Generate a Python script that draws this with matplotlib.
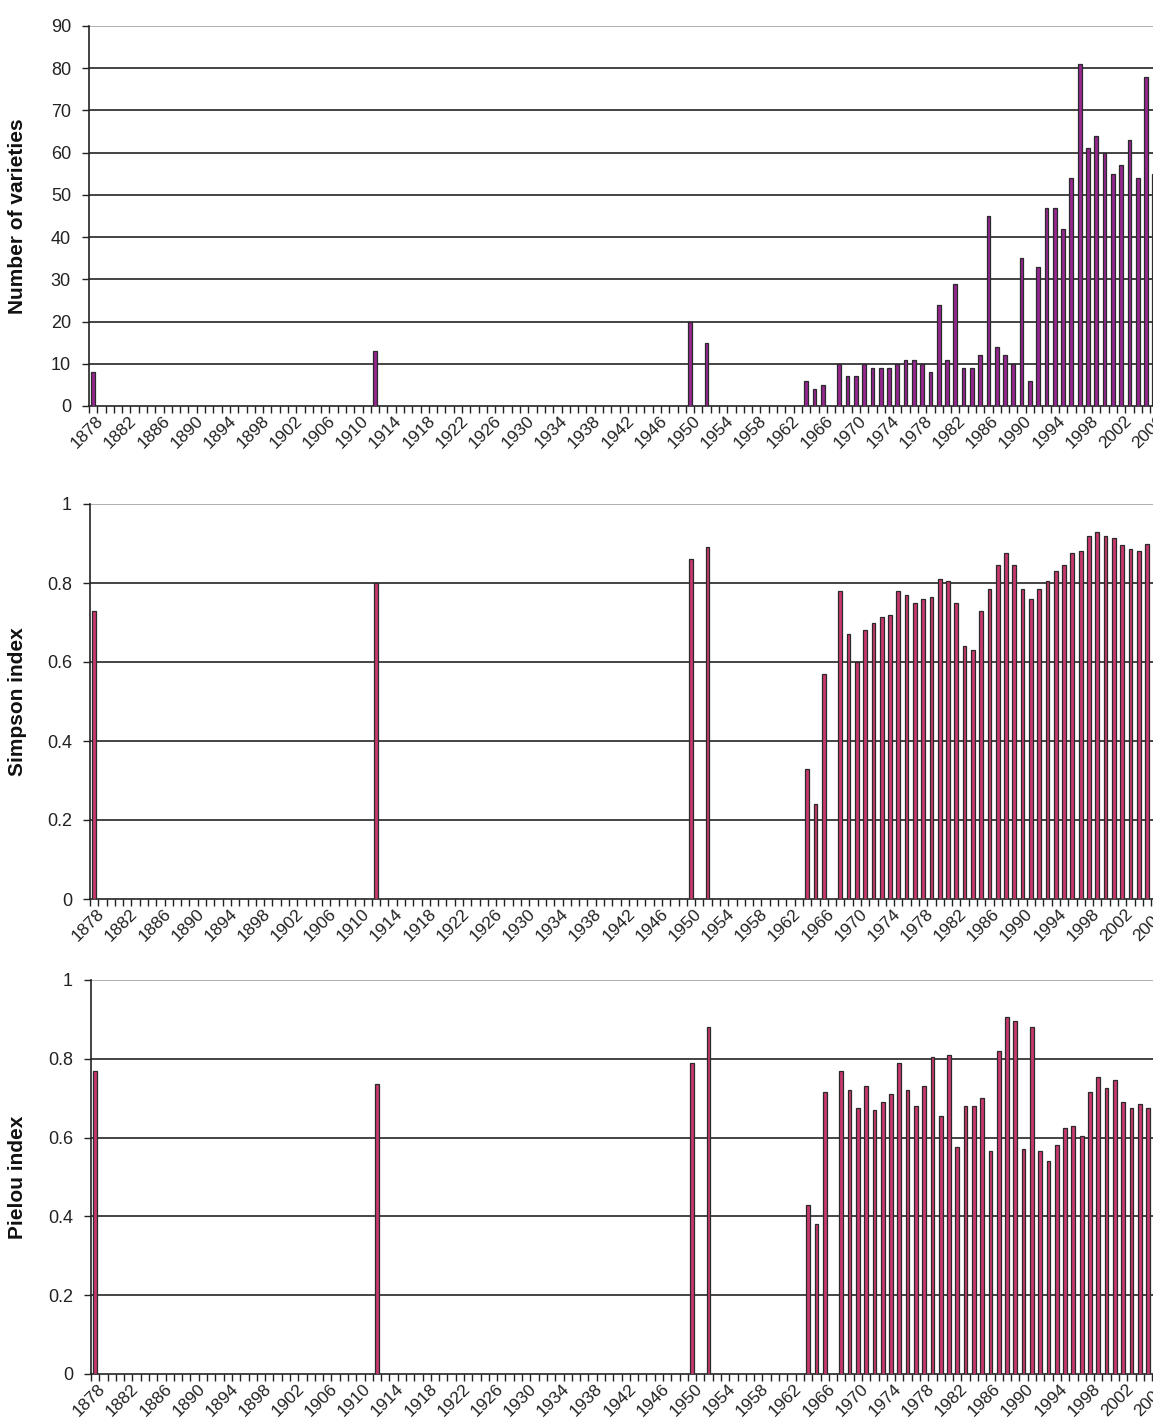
import numpy as np
import matplotlib
matplotlib.use("Agg")
import matplotlib.pyplot as plt

plt.rcParams["font.family"] = ["Liberation Sans", "DejaVu Sans"]

# all categories on the x axis
years_all = list(range(1878, 2007))
tick_years = list(range(1878, 2007, 4))

# years that have a bar
bar_years = [1878, 1912, 1950, 1952, 1964, 1965, 1966] + list(range(1968, 2007))

varieties = [8, 13, 20, 15, 6, 4, 5,
             10, 7, 7, 10, 9, 9, 9, 10, 11, 11, 10, 8, 24, 11, 29, 9, 9, 12, 45, 14,
             12, 10, 35, 6, 33, 47, 47, 42, 54, 81, 61, 64, 60, 55, 57, 63, 54, 78, 55]

simpson = [0.73, 0.80, 0.86, 0.89, 0.33, 0.24, 0.57,
           0.78, 0.67, 0.60, 0.68, 0.70, 0.715, 0.72, 0.78, 0.77, 0.75, 0.76, 0.765,
           0.81, 0.805, 0.75, 0.64, 0.63, 0.73, 0.785, 0.845, 0.875, 0.845, 0.785,
           0.76, 0.785, 0.805, 0.83, 0.845, 0.875, 0.88, 0.92, 0.93, 0.92, 0.915,
           0.895, 0.885, 0.88, 0.90, np.nan]

pielou = [0.77, 0.735, 0.79, 0.88, 0.43, 0.38, 0.715,
          0.77, 0.72, 0.675, 0.73, 0.67, 0.69, 0.71, 0.79, 0.72, 0.68, 0.73, 0.805,
          0.655, 0.81, 0.575, 0.68, 0.68, 0.70, 0.565, 0.82, 0.905, 0.895, 0.57,
          0.88, 0.565, 0.54, 0.58, 0.625, 0.63, 0.605, 0.715, 0.755, 0.725, 0.745,
          0.69, 0.675, 0.685, 0.675, np.nan]

W, H = 1153, 1422
step = 8.29  # px per year
fig = plt.figure(figsize=(W / 100, H / 100), dpi=100)


def panel(left, top, bottom, values, ymax, ystep, color, ylabel, yfmt):
    width = len(years_all) * step
    ax = fig.add_axes([left / W, 1 - bottom / H, width / W, (bottom - top) / H])
    x = [years_all.index(y) for y in bar_years]
    ax.bar(x, values, width=0.45, color=color, edgecolor="#2a2a2a", linewidth=0.9, zorder=3)

    ax.set_xlim(-0.5, len(years_all) - 0.5)
    ax.set_ylim(0, ymax)

    yt = np.arange(0, ymax + ystep / 2, ystep)
    ax.set_yticks(yt)
    ax.set_yticklabels([yfmt(v) for v in yt], fontsize=13, color="#222222")
    for v in yt[1:]:
        c = "#9a9a9a" if v == yt[-1] else "#111111"
        ax.axhline(v, color=c, linewidth=1.1, zorder=1)

    # tick marks at category boundaries, labels every 4 years
    ax.set_xticks(np.arange(-0.5, len(years_all)), minor=True)
    ax.set_xticks([years_all.index(y) + 0.3 for y in tick_years])
    ax.set_xticklabels([str(y) for y in tick_years], rotation=45, ha="right",
                       va="top", rotation_mode="anchor", fontsize=12.5, color="#222222")
    ax.tick_params(axis="x", which="major", length=0, pad=5)
    ax.tick_params(axis="x", which="minor", length=5, width=1.0, color="#222222")
    ax.tick_params(axis="y", length=5, width=1.0, color="#222222", pad=8)

    for s in ["top", "right"]:
        ax.spines[s].set_visible(False)
    ax.spines["left"].set_linewidth(1.2)
    ax.spines["bottom"].set_linewidth(1.2)
    ax.spines["left"].set_color("#222222")
    ax.spines["bottom"].set_color("#222222")

    ax.set_ylabel(ylabel, fontsize=15, fontweight="bold", color="#111111")
    ax.yaxis.set_label_coords(-(left - 27) / width, 0.5)
    return ax


panel(89, 26, 406, varieties, 90, 10, "#962690", "Number of varieties", lambda v: "%d" % v)
panel(90, 504, 899, simpson, 1.0, 0.2, "#C8386E", "Simpson index", lambda v: "%g" % round(v, 1))
panel(91, 980, 1374, pielou, 1.0, 0.2, "#C8386E", "Pielou index", lambda v: "%g" % round(v, 1))

fig.savefig("out.png", dpi=100)
